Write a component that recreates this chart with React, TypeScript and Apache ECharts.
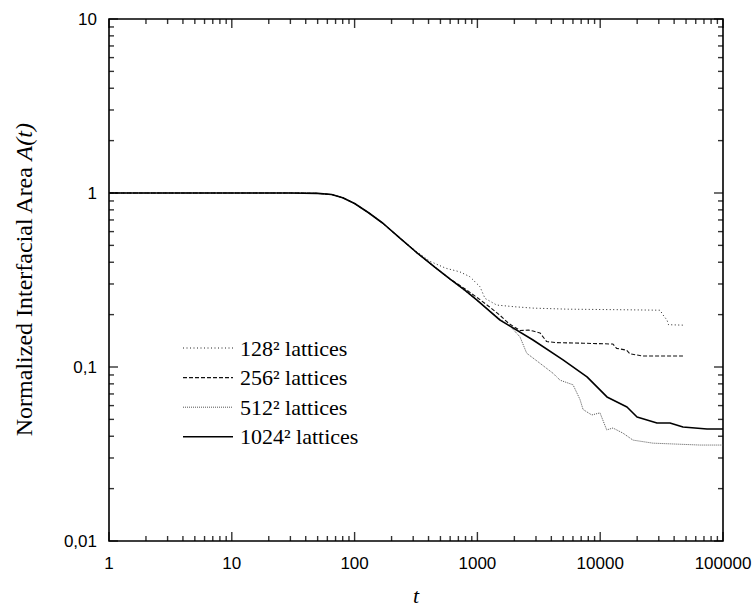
import React, { useEffect, useRef } from "react";
import * as echarts from "echarts";

// ---- Data ----
const seriesNames = ["128² lattices", "256² lattices", "512² lattices", "1024² lattices"];

const t128 = [1, 10, 30, 50, 65, 80, 100, 130, 170, 234, 320, 411, 550, 721, 870, 1050, 1153, 1436, 2000, 2838, 5370, 10000, 18500, 30700, 32500, 35000, 36000, 47200];
const a128 = [1, 1, 1, 0.995, 0.98, 0.94, 0.87, 0.77, 0.67, 0.55, 0.46, 0.405, 0.37, 0.352, 0.33, 0.289, 0.248, 0.227, 0.222, 0.218, 0.215, 0.214, 0.213, 0.212, 0.199, 0.186, 0.175, 0.174];

const t256 = [1, 10, 30, 50, 65, 80, 100, 130, 170, 234, 320, 450, 600, 800, 1000, 1250, 1528, 1800, 2222, 2600, 2838, 3235, 3667, 4425, 7250, 12700, 13600, 16400, 17500, 22300, 47200];
const a256 = [1, 1, 1, 0.995, 0.98, 0.94, 0.87, 0.77, 0.67, 0.55, 0.455, 0.375, 0.32, 0.28, 0.25, 0.222, 0.198, 0.178, 0.162, 0.163, 0.161, 0.157, 0.14, 0.138, 0.137, 0.1355, 0.128, 0.125, 0.119, 0.1156, 0.1156];

const t512 = [1, 10, 30, 50, 65, 80, 100, 130, 170, 234, 320, 450, 600, 800, 1000, 1500, 1842, 2222, 2520, 3235, 4130, 4710, 6010, 6850, 7250, 8530, 9960, 11300, 12700, 15300, 18500, 26900, 65000, 100000];
const a512 = [1, 1, 1, 0.995, 0.98, 0.94, 0.87, 0.77, 0.67, 0.55, 0.455, 0.372, 0.318, 0.272, 0.24, 0.19, 0.172, 0.149, 0.12, 0.105, 0.092, 0.084, 0.079, 0.065, 0.057, 0.053, 0.0545, 0.0435, 0.0446, 0.0417, 0.038, 0.0365, 0.0356, 0.0356];

const t1024 = [1, 10, 30, 50, 65, 80, 100, 130, 170, 234, 320, 450, 600, 800, 987, 1528, 2838, 4980, 7810, 11350, 16520, 19950, 29000, 37000, 47200, 74100, 100000];
const a1024 = [1, 1, 1, 0.995, 0.98, 0.94, 0.87, 0.77, 0.67, 0.55, 0.455, 0.375, 0.32, 0.275, 0.243, 0.186, 0.143, 0.11, 0.0877, 0.0673, 0.0589, 0.0516, 0.0477, 0.0477, 0.0452, 0.044, 0.044];

const xDecades = [1, 10, 100, 1000, 10000, 100000];
const yDecades = [0.01, 0.1, 1, 10];
const minorMultipliers = [2, 3, 4, 5, 6, 7, 8, 9];
const xTickLabels = ["1", "10", "100", "1000", "10000", "100000"];
const yTickLabels = ["0,01", "0,1", "1", "10"];
const xTitle = "t";

// ---- Styles ----
const SERIF = "'Liberation Serif', 'Times New Roman', serif";
const SANS = "'Liberation Sans', Arial, sans-serif";
const lineStyles = [
  { color: "#222", width: 1, dash: [1, 2.5] as number[] | null },
  { color: "#111", width: 1.1, dash: [4, 2] as number[] | null },
  { color: "#555", width: 1, dash: [1, 1] as number[] | null },
  { color: "#000", width: 1.6, dash: null as number[] | null },
];

function pairs(t: number[], a: number[]) {
  return t.map((v, i) => [v, a[i]]);
}

function tickValues(decades: number[]) {
  const out: { v: number; major: boolean }[] = [];
  decades.forEach((d, i) => {
    out.push({ v: d, major: true });
    if (i < decades.length - 1) minorMultipliers.forEach((m) => out.push({ v: d * m, major: false }));
  });
  return out;
}

const MAJOR = 9;
const MINOR = 5;
const TW = 1.4;

function tickSeries(side: "bottom" | "top" | "left" | "right") {
  const horizontal = side === "bottom" || side === "top";
  const ticks = tickValues(horizontal ? xDecades : yDecades);
  const data = ticks.map(({ v, major }) => {
    const len = major ? MAJOR : MINOR;
    let value: number[];
    let size: number[];
    let offset: number[];
    if (side === "bottom") {
      value = [v, 0.01];
      size = [TW, len];
      offset = [0, -len / 2];
    } else if (side === "top") {
      value = [v, 10];
      size = [TW, len];
      offset = [0, len / 2];
    } else if (side === "left") {
      value = [1, v];
      size = [len, TW];
      offset = [len / 2, 0];
    } else {
      value = [100000, v];
      size = [len, TW];
      offset = [-len / 2, 0];
    }
    return { value, symbolSize: size, symbolOffset: offset };
  });
  return {
    type: "scatter",
    silent: true,
    symbol: "rect",
    clip: false,
    data,
    itemStyle: { color: "#000" },
    z: 6,
  };
}

export default function App() {
  const ref = useRef<HTMLDivElement>(null);
  useEffect(() => {
    if (!ref.current) return;
    const chart = echarts.init(ref.current, undefined, { renderer: "svg" });

    const legendX = 183;
    const legendY = 348;
    const legendRow = 29.6;
    const graphics: any[] = [];
    seriesNames.forEach((name, i) => {
      const st = lineStyles[i];
      const y = legendY + i * legendRow;
      graphics.push({
        type: "line",
        shape: { x1: legendX, y1: y, x2: legendX + 50, y2: y },
        style: { stroke: st.color, lineWidth: st.width, lineDash: st.dash || undefined },
        silent: true,
      });
      graphics.push({
        type: "text",
        x: legendX + 57,
        y: y,
        style: {
          text: name,
          fontFamily: SERIF,
          fontSize: 22,
          fill: "#000",
          verticalAlign: "middle",
          textAlign: "left",
        },
        silent: true,
      });
    });
    graphics.push({
      type: "text",
      x: 416,
      y: 595,
      style: {
        text: xTitle,
        fontFamily: SERIF,
        fontStyle: "italic",
        fontSize: 22,
        fill: "#000",
        verticalAlign: "middle",
        textAlign: "center",
      },
      silent: true,
    });

    const lineData = [pairs(t128, a128), pairs(t256, a256), pairs(t512, a512), pairs(t1024, a1024)];

    const option: any = {
      animation: false,
      backgroundColor: "#fff",
      grid: {
        left: 109,
        right: 29,
        top: 19,
        bottom: 66,
        show: true,
        borderColor: "#000",
        borderWidth: 1.6,
        backgroundColor: "transparent",
        containLabel: false,
        outerBoundsMode: "none",
      },
      xAxis: {
        type: "log",
        logBase: 10,
        min: 1,
        max: 100000,
        axisLine: { show: false },
        axisTick: { show: false },
        splitLine: { show: false },
        minorTick: { show: false },
        axisLabel: {
          fontFamily: SANS,
          fontSize: 17,
          color: "#000",
          margin: 14,
          formatter: (v: number) => xTickLabels[Math.round(Math.log10(v))] ?? "",
        },
      },
      yAxis: {
        type: "log",
        logBase: 10,
        min: 0.01,
        max: 10,
        name: "Normalized Interfacial Area {i|A(t)}",
        nameLocation: "middle",
        nameGap: 73,
        nameTextStyle: {
          fontFamily: SERIF,
          fontSize: 24,
          color: "#000",
          rich: { i: { fontFamily: SERIF, fontStyle: "italic", fontSize: 24, color: "#000" } },
        },
        axisLine: { show: false },
        axisTick: { show: false },
        splitLine: { show: false },
        axisLabel: {
          fontFamily: SANS,
          fontSize: 17,
          color: "#000",
          margin: 12,
          formatter: (v: number) => yTickLabels[Math.round(Math.log10(v)) + 2] ?? "",
        },
      },
      graphic: graphics,
      series: [
        ...seriesNames.map((name, i) => ({
          name,
          type: "line",
          data: lineData[i],
          showSymbol: false,
          symbol: "none",
          itemStyle: { color: lineStyles[i].color },
          lineStyle: {
            color: lineStyles[i].color,
            width: lineStyles[i].width,
            type: lineStyles[i].dash || "solid",
          },
          z: i === 3 ? 4 : 3,
        })),
        tickSeries("bottom"),
        tickSeries("top"),
        tickSeries("left"),
        tickSeries("right"),
      ],
    };
    chart.setOption(option);
    return () => chart.dispose();
  }, []);
  return (
    <div
      ref={ref}
      style={{ position: "fixed", left: 0, top: 0, width: 752, height: 607, background: "#fff" }}
    />
  );
}
